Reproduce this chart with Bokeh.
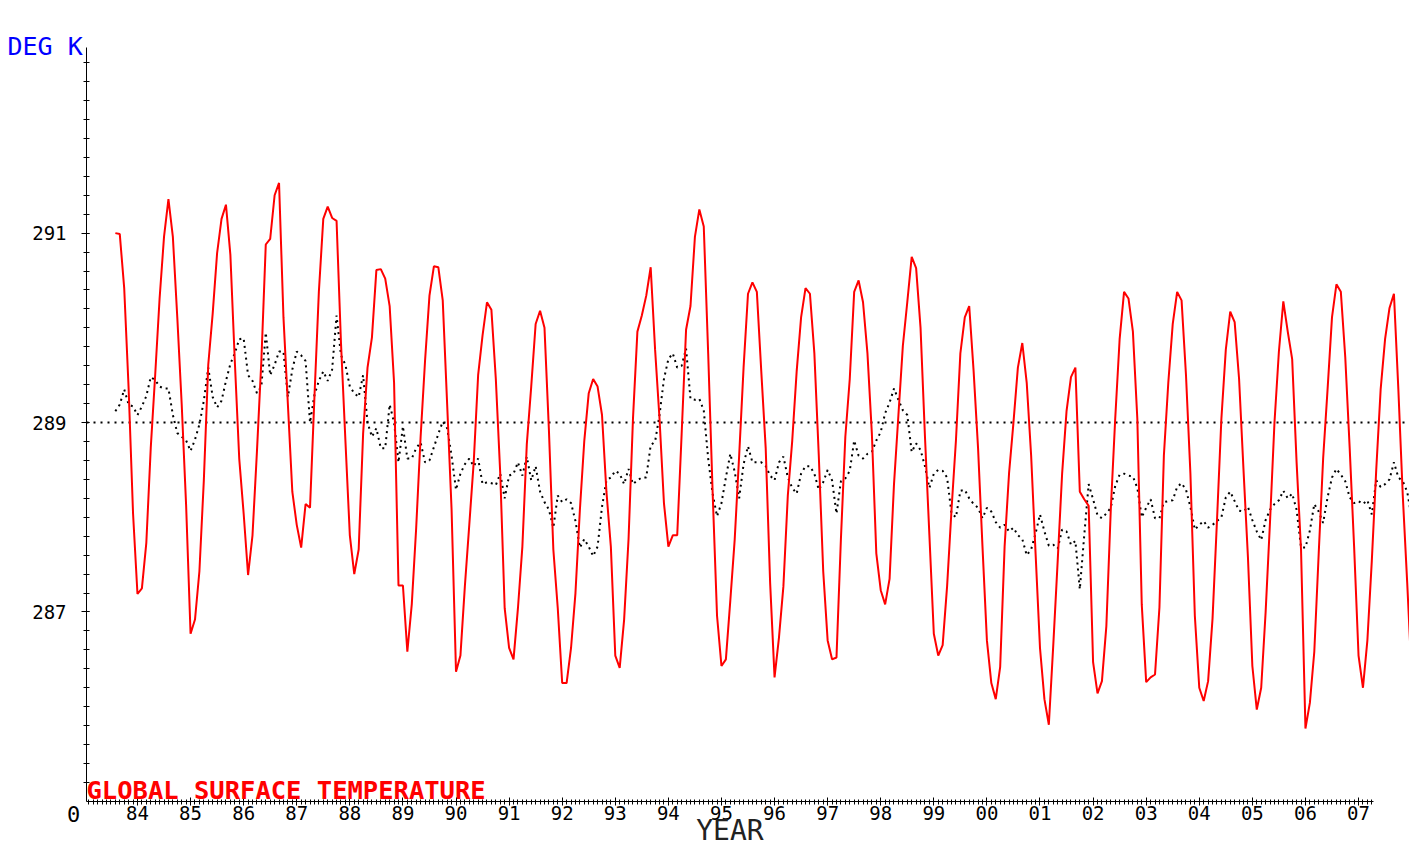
from bokeh.plotting import figure
from bokeh.models import Range1d, FixedTicker, Label
from bokeh.embed import file_html
from bokeh.resources import INLINE

# ---- data (monthly, starting Aug 1983) ----
start_year = 1983
start_month_offset = 7  # months after Jan of start_year

surface_temp = [
    291.00, 290.99, 290.42, 289.36, 288.04, 287.19,
    287.25, 287.73, 288.73, 289.50, 290.31, 290.96, 291.36, 290.96, 290.11, 289.19, 288.12, 286.77,
    286.92, 287.43, 288.39, 289.61, 290.15, 290.79, 291.15, 291.30, 290.77, 289.65, 288.62, 288.04,
    287.39, 287.81, 288.69, 289.65, 290.88, 290.94, 291.40, 291.53, 290.11, 289.19, 288.27, 287.92,
    287.68, 288.14, 288.10, 289.27, 290.38, 291.15, 291.28, 291.16, 291.13, 289.84, 288.81, 287.81,
    287.40, 287.66, 288.88, 289.58, 289.90, 290.61, 290.62, 290.52, 290.23, 289.42, 287.28, 287.28,
    286.58, 287.08, 287.89, 288.85, 289.65, 290.34, 290.65, 290.64, 290.29, 289.19, 288.08, 286.37,
    286.54, 287.27, 287.92, 288.58, 289.50, 289.92, 290.27, 290.19, 289.46, 288.46, 287.04, 286.62,
    286.50, 287.04, 287.69, 288.77, 289.38, 290.04, 290.18, 290.00, 288.92, 287.66, 287.04, 286.25,
    286.25, 286.62, 287.20, 288.08, 288.81, 289.31, 289.46, 289.38, 289.08, 288.27, 287.69, 286.54,
    286.41, 286.92, 287.77, 289.04, 289.96, 290.13, 290.34, 290.64, 289.77, 289.04, 288.15, 287.69,
    287.81, 287.81, 288.88, 289.98, 290.23, 290.96, 291.25, 291.07, 289.73, 288.27, 286.96, 286.43,
    286.50, 287.12, 287.77, 288.65, 289.58, 290.36, 290.48, 290.38, 289.54, 288.73, 287.31, 286.31,
    286.73, 287.27, 288.23, 288.81, 289.54, 290.11, 290.42, 290.36, 289.73, 288.65, 287.43, 286.70,
    286.50, 286.52, 287.77, 288.85, 289.46, 290.38, 290.50, 290.27, 289.73, 288.88, 287.62, 287.23,
    287.08, 287.35, 288.35, 289.08, 289.81, 290.27, 290.75, 290.63, 290.00, 288.85, 287.81, 286.77,
    286.54, 286.65, 287.27, 288.08, 288.81, 289.73, 290.11, 290.23, 289.54, 288.73, 287.69, 286.70,
    286.25, 286.08, 286.42, 287.69, 288.46, 289.00, 289.58, 289.84, 289.42, 288.65, 287.62, 286.62,
    286.08, 285.81, 286.65, 287.54, 288.46, 289.12, 289.48, 289.58, 288.27, 288.19, 288.12, 286.47,
    286.14, 286.27, 286.85, 288.08, 289.04, 289.88, 290.38, 290.31, 289.96, 289.04, 287.08, 286.26,
    286.31, 286.34, 287.05, 288.65, 289.42, 290.04, 290.38, 290.29, 289.50, 288.46, 286.96, 286.20,
    286.06, 286.27, 286.93, 287.96, 289.04, 289.77, 290.17, 290.06, 289.46, 288.50, 287.58, 286.43,
    285.97, 286.20, 287.00, 287.96, 289.00, 289.75, 290.28, 289.96, 289.67, 288.58, 287.66, 285.77,
    286.04, 286.58, 287.62, 288.62, 289.35, 290.11, 290.46, 290.38, 289.69, 288.73, 287.69, 286.54,
    286.20, 286.70, 287.54, 288.50, 289.35, 289.88, 290.21, 290.36, 289.35, 288.23, 287.31, 286.33,
]

smoothed_temp = [
    289.12, 289.19, 289.35, 289.19, 289.17, 289.08,
    289.17, 289.28, 289.48, 289.45, 289.38, 289.36, 289.36, 289.08, 288.89, 288.85, 288.81, 288.70,
    288.82, 288.98, 289.23, 289.58, 289.27, 289.16, 289.23, 289.44, 289.62, 289.73, 289.88, 289.89,
    289.50, 289.44, 289.31, 289.38, 289.95, 289.50, 289.61, 289.75, 289.75, 289.27, 289.56, 289.75,
    289.71, 289.65, 289.00, 289.29, 289.44, 289.54, 289.44, 289.56, 290.13, 289.71, 289.61, 289.38,
    289.31, 289.27, 289.50, 289.00, 288.85, 288.94, 288.73, 288.73, 289.19, 289.00, 288.58, 288.96,
    288.62, 288.62, 288.73, 288.79, 288.58, 288.60, 288.74, 288.88, 289.01, 288.94, 288.65, 288.29,
    288.46, 288.56, 288.62, 288.54, 288.62, 288.35, 288.37, 288.36, 288.34, 288.46, 288.20, 288.44,
    288.46, 288.58, 288.44, 288.64, 288.39, 288.54, 288.27, 288.16, 288.08, 287.89, 288.23, 288.16,
    288.19, 288.15, 287.96, 287.68, 287.77, 287.69, 287.59, 287.69, 288.11, 288.39, 288.42, 288.49,
    288.46, 288.35, 288.51, 288.35, 288.39, 288.42, 288.42, 288.76, 288.80, 289.08, 289.46, 289.67,
    289.73, 289.58, 289.60, 289.78, 289.25, 289.24, 289.25, 289.13, 288.62, 288.25, 288.01, 288.15,
    288.42, 288.67, 288.48, 288.20, 288.56, 288.75, 288.58, 288.58, 288.58, 288.54, 288.44, 288.39,
    288.58, 288.64, 288.42, 288.31, 288.25, 288.46, 288.54, 288.54, 288.46, 288.29, 288.37, 288.50,
    288.39, 288.04, 288.38, 288.41, 288.49, 288.81, 288.65, 288.62, 288.67, 288.69, 288.81, 288.90,
    289.10, 289.21, 289.36, 289.24, 289.13, 289.08, 288.69, 288.78, 288.71, 288.54, 288.31, 288.46,
    288.50, 288.49, 288.42, 288.04, 288.00, 288.28, 288.29, 288.20, 288.14, 288.10, 287.99, 288.10,
    288.06, 287.95, 287.89, 287.92, 287.85, 287.89, 287.81, 287.77, 287.60, 287.66, 287.83, 288.03,
    287.85, 287.70, 287.71, 287.67, 287.87, 287.85, 287.71, 287.75, 287.24, 287.81, 288.35, 288.19,
    288.02, 287.99, 288.04, 288.10, 288.33, 288.45, 288.46, 288.44, 288.43, 288.31, 288.00, 288.10,
    288.19, 287.99, 287.99, 288.16, 288.17, 288.18, 288.32, 288.36, 288.29, 288.11, 287.87, 287.92,
    287.96, 287.89, 287.92, 287.96, 288.00, 288.21, 288.27, 288.17, 288.07, 288.06, 288.11, 287.97,
    287.85, 287.76, 287.97, 288.08, 288.14, 288.18, 288.28, 288.20, 288.25, 288.08, 287.68, 287.68,
    287.86, 288.14, 288.06, 287.94, 288.21, 288.42, 288.51, 288.45, 288.38, 288.21, 288.15, 288.17,
    288.14, 288.18, 288.03, 288.39, 288.32, 288.35, 288.40, 288.58, 288.42, 288.38, 288.27, 288.00,
]

reference_level = [289.0]
year_ticks = list(range(1984, 2008))
year_labels = ["84", "85", "86", "87", "88", "89", "90", "91", "92", "93", "94", "95",
               "96", "97", "98", "99", "00", "01", "02", "03", "04", "05", "06", "07"]
y_major_ticks = [287, 289, 291]
y_major_labels = ["287", "289", "291"]

# axis extents (data units)
X_AXIS_START, X_AXIS_END = 1983.04, 2007.28
Y_AXIS_START, Y_AXIS_END = 285.0, 292.96

n = min(len(surface_temp), len(smoothed_temp))
times = [start_year + (start_month_offset + i) / 12.0 for i in range(n)]

MONO = "DejaVu Sans Mono"

# the frame fills the whole canvas; axes are pinned at fixed data locations
p = figure(width=1409, height=848, output_backend="svg", toolbar_location=None,
           x_range=Range1d(1981.420, 2007.960), y_range=Range1d(284.503, 293.456),
           min_border_left=0, min_border_right=0, min_border_top=0, min_border_bottom=0,
           background_fill_color="white", border_fill_color="white")
p.outline_line_color = None
p.grid.visible = False

# x axis
xa = p.xaxis[0]
xa.fixed_location = Y_AXIS_START
xa.ticker = FixedTicker(ticks=year_ticks,
                        minor_ticks=[1983 + k / 12.0 for k in range(1, 12 * 24 + 4)])
xa.major_label_overrides = {yr: lab for yr, lab in zip(year_ticks, year_labels)}
xa.bounds = (X_AXIS_START, X_AXIS_END)
xa.axis_line_color = "black"
xa.axis_line_width = 1
xa.major_tick_in = 4
xa.major_tick_out = 4
xa.minor_tick_in = 2
xa.minor_tick_out = 3
xa.major_tick_line_color = "black"
xa.minor_tick_line_color = "black"
xa.major_label_standoff = 1
xa.major_label_text_font = MONO
xa.major_label_text_font_size = "19px"
xa.major_label_text_color = "black"

# y axis
ya = p.yaxis[0]
ya.fixed_location = X_AXIS_START
ya.bounds = (Y_AXIS_START, Y_AXIS_END)
ya.ticker = FixedTicker(ticks=y_major_ticks,
                        minor_ticks=[round(285 + 0.2 * k, 1) for k in range(1, 40)])
ya.major_label_overrides = {v: lab for v, lab in zip(y_major_ticks, y_major_labels)}
ya.axis_line_color = "black"
ya.major_tick_in = 3
ya.major_tick_out = 5
ya.minor_tick_in = 3
ya.minor_tick_out = 3
ya.major_tick_line_color = "black"
ya.minor_tick_line_color = "black"
ya.major_label_standoff = 15
ya.major_label_text_font = MONO
ya.major_label_text_font_size = "19px"
ya.major_label_text_color = "black"

# reference line (dotted) across the plotting area
p.segment(x0=[X_AXIS_START], y0=reference_level, x1=[times[n - 1]], y1=reference_level,
          line_color="black", line_width=2, line_dash="2 5")

# series
p.line(times[:n], smoothed_temp[:n], line_color="black", line_width=2, line_dash="2 4")
p.line(times[:n], surface_temp[:n], line_color="#ff0000", line_width=2)

# texts
p.add_layout(Label(x=1981.552, y=292.971, text="DEG K", text_font=MONO, text_font_size="25px",
                   text_color="#0000ff", text_align="left", text_baseline="alphabetic"))
p.add_layout(Label(x=X_AXIS_START, y=285.116, text="GLOBAL SURFACE TEMPERATURE", text_font=MONO,
                   text_font_size="25.5px", text_font_style="bold", text_color="#ff0000",
                   text_align="left", text_baseline="alphabetic"))
p.add_layout(Label(x=(X_AXIS_START + X_AXIS_END) / 2, y=284.694, text="YEAR", text_font=MONO,
                   text_font_size="28px", text_color="#222222", text_align="center",
                   text_baseline="alphabetic"))
p.add_layout(Label(x=1982.795, y=284.862, text="0", text_font=MONO, text_font_size="22px",
                   text_color="black", text_align="center", text_baseline="alphabetic"))

open("out.html", "w").write(file_html(p, INLINE))
